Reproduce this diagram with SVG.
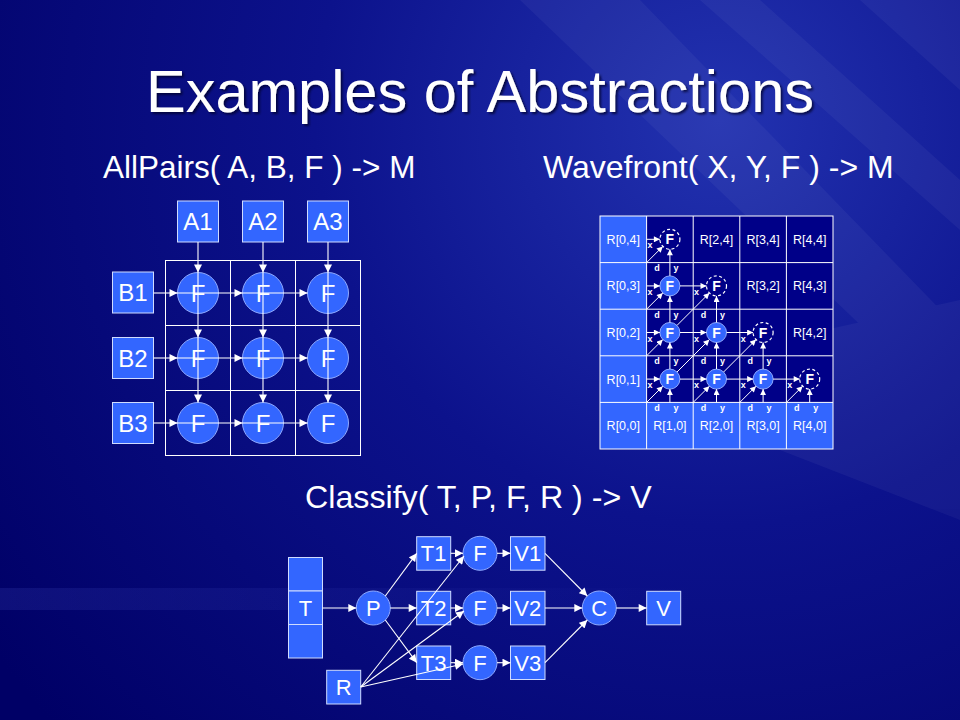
<svg xmlns="http://www.w3.org/2000/svg" width="960" height="720" viewBox="0 0 960 720">
<defs>
<radialGradient id="bg" cx="720" cy="120" r="900" gradientUnits="userSpaceOnUse">
<stop offset="0" stop-color="#2232b0"/>
<stop offset="0.45" stop-color="#0c128c"/>
<stop offset="1" stop-color="#000066"/>
</radialGradient>
<linearGradient id="band" x1="0" y1="0" x2="1" y2="0">
<stop offset="0" stop-color="#6f7fff" stop-opacity="0.12"/>
<stop offset="1" stop-color="#6f7fff" stop-opacity="0"/>
</linearGradient>
<filter id="tshadow" x="-5%" y="-20%" width="110%" height="140%">
<feDropShadow dx="2" dy="2" stdDeviation="1" flood-color="#000022" flood-opacity="0.7"/>
</filter>
<marker id="ah" viewBox="0 0 10 10" refX="10" refY="5" markerUnits="userSpaceOnUse" markerWidth="9" markerHeight="8" orient="auto">
<path d="M0,0 L10,5 L0,10 z" fill="#ffffff"/>
</marker>
<marker id="sh" viewBox="0 0 10 10" refX="10" refY="5" markerUnits="userSpaceOnUse" markerWidth="7" markerHeight="6" orient="auto">
<path d="M0,0 L10,5 L0,10 z" fill="#ffffff"/>
</marker>
</defs>
<style>
.box{fill:#3366ff;stroke:#d0dcff;stroke-width:1}
.circ{fill:#3366ff;stroke:#8faaff;stroke-width:1}
.dash{fill:none;stroke:#ffffff;stroke-width:1.2;stroke-dasharray:3,2.5}
.lbl{font-family:"Liberation Sans",Arial,sans-serif;fill:#ffffff;text-anchor:middle}
.big{font-size:24px}
.mid{font-size:22px}
.cell{font-size:12.5px}
.fw{font-size:14px;font-weight:bold}
.tiny{font-family:"Liberation Sans",Arial,sans-serif;fill:#ffffff;font-size:9px;font-weight:bold;text-anchor:middle}
.ln{stroke:#ffffff;stroke-width:1;fill:none}
.con{stroke:#ffffff;stroke-width:1.1;fill:none;marker-end:url(#ah)}
.wc{stroke:#ffffff;stroke-width:1;fill:none;marker-end:url(#sh)}
.hd{font-family:"Liberation Sans",Arial,sans-serif;fill:#ffffff}
</style>
<rect x="0" y="0" width="960" height="720" fill="url(#bg)"/>
<g fill="#ffffff" opacity="0.04">
<path d="M520,0 L640,0 L960,330 L960,420 Z"/>
<path d="M700,0 L760,0 L960,180 L960,230 Z"/>
<path d="M860,0 L960,0 L960,90 Z"/>
<path d="M600,380 L960,300 L960,520 Z"/>
</g>
<rect x="0" y="588" width="700" height="22" fill="url(#band)"/>
<text x="480" y="112" font-family="Liberation Sans,Arial,sans-serif" font-size="59.5" fill="#ffffff" text-anchor="middle" filter="url(#tshadow)">Examples of Abstractions</text>
<text class="hd" x="103" y="178" font-size="31.5">AllPairs( A, B, F ) -&gt; M</text>
<text class="hd" x="543" y="178" font-size="32">Wavefront( X, Y, F ) -&gt; M</text>
<text class="hd" x="305" y="508" font-size="32.2">Classify( T, P, F, R ) -&gt; V</text>

<!-- AllPairs grid -->
<g id="allpairs-grid" class="ln">
<rect x="165.5" y="260.5" width="195" height="195"/>
<line x1="230.5" y1="260.5" x2="230.5" y2="455.5"/>
<line x1="295.5" y1="260.5" x2="295.5" y2="455.5"/>
<line x1="165.5" y1="325.5" x2="360.5" y2="325.5"/>
<line x1="165.5" y1="390.5" x2="360.5" y2="390.5"/>
</g>
<g id="A1"><rect class="box" x="177.5" y="201" width="41" height="41"/><text class="lbl big" x="198" y="230">A1</text></g>
<g id="A2"><rect class="box" x="242.5" y="201" width="41" height="41"/><text class="lbl big" x="263" y="230">A2</text></g>
<g id="A3"><rect class="box" x="307.5" y="201" width="41" height="41"/><text class="lbl big" x="328" y="230">A3</text></g>
<g id="B1"><rect class="box" x="112.5" y="272" width="41" height="41"/><text class="lbl big" x="133" y="301">B1</text></g>
<g id="B2"><rect class="box" x="112.5" y="337.5" width="41" height="41"/><text class="lbl big" x="133" y="366.5">B2</text></g>
<g id="B3"><rect class="box" x="112.5" y="402.5" width="41" height="41"/><text class="lbl big" x="133" y="431.5">B3</text></g>
<g id="F11"><circle class="circ" cx="198" cy="293" r="20.5"/><text class="lbl big" x="198" y="302">F</text></g>
<g id="F21"><circle class="circ" cx="263" cy="293" r="20.5"/><text class="lbl big" x="263" y="302">F</text></g>
<g id="F31"><circle class="circ" cx="328" cy="293" r="20.5"/><text class="lbl big" x="328" y="302">F</text></g>
<g id="F12"><circle class="circ" cx="198" cy="358" r="20.5"/><text class="lbl big" x="198" y="367">F</text></g>
<g id="F22"><circle class="circ" cx="263" cy="358" r="20.5"/><text class="lbl big" x="263" y="367">F</text></g>
<g id="F32"><circle class="circ" cx="328" cy="358" r="20.5"/><text class="lbl big" x="328" y="367">F</text></g>
<g id="F13"><circle class="circ" cx="198" cy="423" r="20.5"/><text class="lbl big" x="198" y="432">F</text></g>
<g id="F23"><circle class="circ" cx="263" cy="423" r="20.5"/><text class="lbl big" x="263" y="432">F</text></g>
<g id="F33"><circle class="circ" cx="328" cy="423" r="20.5"/><text class="lbl big" x="328" y="432">F</text></g>

<!-- Wavefront grid -->
<g id="wavefront-grid">
<rect x="646.6" y="216" width="186.4" height="186.4" fill="#000088"/>
<rect x="600" y="216" width="46.6" height="233" fill="#3366ff"/>
<rect x="646.6" y="402.4" width="186.4" height="46.6" fill="#3366ff"/>
<g class="ln">
<rect x="600" y="216" width="233" height="233"/>
<line x1="646.6" y1="216" x2="646.6" y2="449"/>
<line x1="693.2" y1="216" x2="693.2" y2="449"/>
<line x1="739.8" y1="216" x2="739.8" y2="449"/>
<line x1="786.4" y1="216" x2="786.4" y2="449"/>
<line x1="600" y1="262.6" x2="833" y2="262.6"/>
<line x1="600" y1="309.2" x2="833" y2="309.2"/>
<line x1="600" y1="355.8" x2="833" y2="355.8"/>
<line x1="600" y1="402.4" x2="833" y2="402.4"/>
</g>
<g class="lbl cell">
<text x="623.3" y="243.8">R[0,4]</text>
<text x="623.3" y="290.4">R[0,3]</text>
<text x="623.3" y="337">R[0,2]</text>
<text x="623.3" y="383.6">R[0,1]</text>
<text x="623.3" y="430.2">R[0,0]</text>
<text x="669.9" y="430.2">R[1,0]</text>
<text x="716.5" y="430.2">R[2,0]</text>
<text x="763.1" y="430.2">R[3,0]</text>
<text x="809.7" y="430.2">R[4,0]</text>
<text x="716.5" y="243.8">R[2,4]</text>
<text x="763.1" y="243.8">R[3,4]</text>
<text x="809.7" y="243.8">R[4,4]</text>
<text x="763.1" y="290.4">R[3,2]</text>
<text x="809.7" y="290.4">R[4,3]</text>
<text x="809.7" y="337">R[4,2]</text>
</g>
<g class="tiny">
<text x="650" y="248">x</text><text x="657" y="271">d</text><text x="676" y="271">y</text>
<text x="650" y="295">x</text><text x="657" y="317.5">d</text><text x="676" y="317.5">y</text>
<text x="650" y="341.5">x</text><text x="657" y="364">d</text><text x="676" y="364">y</text>
<text x="650" y="388">x</text><text x="657" y="411">d</text><text x="676" y="411">y</text>
<text x="696.6" y="295">x</text><text x="703.6" y="317.5">d</text><text x="722.5" y="317.5">y</text>
<text x="696.6" y="341.5">x</text><text x="703.6" y="364">d</text><text x="722.5" y="364">y</text>
<text x="696.6" y="388">x</text><text x="703.6" y="411">d</text><text x="722.5" y="411">y</text>
<text x="743.2" y="341.5">x</text><text x="750.2" y="364">d</text><text x="769.1" y="364">y</text>
<text x="743.2" y="388">x</text><text x="750.2" y="411">d</text><text x="769.1" y="411">y</text>
<text x="789.8" y="388">x</text><text x="796.8" y="411">d</text><text x="815.7" y="411">y</text>
</g>
</g>
<g id="W14"><circle class="dash" cx="669.9" cy="239.3" r="10"/><text class="lbl fw" x="669.9" y="244.3">F</text></g>
<g id="W13"><circle class="circ" cx="669.9" cy="285.9" r="10"/><text class="lbl fw" x="669.9" y="290.9">F</text></g>
<g id="W12"><circle class="circ" cx="669.9" cy="332.5" r="10"/><text class="lbl fw" x="669.9" y="337.5">F</text></g>
<g id="W11"><circle class="circ" cx="669.9" cy="379.1" r="10"/><text class="lbl fw" x="669.9" y="384.1">F</text></g>
<g id="W23"><circle class="dash" cx="716.5" cy="285.9" r="10"/><text class="lbl fw" x="716.5" y="290.9">F</text></g>
<g id="W22"><circle class="circ" cx="716.5" cy="332.5" r="10"/><text class="lbl fw" x="716.5" y="337.5">F</text></g>
<g id="W21"><circle class="circ" cx="716.5" cy="379.1" r="10"/><text class="lbl fw" x="716.5" y="384.1">F</text></g>
<g id="W32"><circle class="dash" cx="763.1" cy="332.5" r="10"/><text class="lbl fw" x="763.1" y="337.5">F</text></g>
<g id="W31"><circle class="circ" cx="763.1" cy="379.1" r="10"/><text class="lbl fw" x="763.1" y="384.1">F</text></g>
<g id="W41"><circle class="dash" cx="809.7" cy="379.1" r="10"/><text class="lbl fw" x="809.7" y="384.1">F</text></g>

<!-- Classify nodes -->
<g id="T">
<rect class="box" x="288.5" y="557.5" width="34" height="33.5"/>
<rect class="box" x="288.5" y="591" width="34" height="33.5"/>
<rect class="box" x="288.5" y="624.5" width="34" height="33.5"/>
<text class="lbl mid" x="305.5" y="616">T</text>
</g>
<g id="P"><circle class="circ" cx="373.3" cy="608" r="17"/><text class="lbl mid" x="373.3" y="616">P</text></g>
<g id="T1"><rect class="box" x="416.7" y="536.7" width="34" height="33.5"/><text class="lbl mid" x="433.7" y="561.3">T1</text></g>
<g id="T2"><rect class="box" x="416.7" y="591.3" width="34" height="33.5"/><text class="lbl mid" x="433.7" y="616">T2</text></g>
<g id="T3"><rect class="box" x="416.7" y="646" width="34" height="33.5"/><text class="lbl mid" x="433.7" y="670.7">T3</text></g>
<g id="CF1"><circle class="circ" cx="480" cy="553.3" r="17"/><text class="lbl mid" x="480" y="561.3">F</text></g>
<g id="CF2"><circle class="circ" cx="480" cy="608" r="17"/><text class="lbl mid" x="480" y="616">F</text></g>
<g id="CF3"><circle class="circ" cx="480" cy="662.7" r="17"/><text class="lbl mid" x="480" y="670.7">F</text></g>
<g id="V1"><rect class="box" x="510.5" y="536.7" width="34.5" height="33.5"/><text class="lbl mid" x="527.7" y="561.3">V1</text></g>
<g id="V2"><rect class="box" x="510.5" y="591.3" width="34.5" height="33.5"/><text class="lbl mid" x="527.7" y="616">V2</text></g>
<g id="V3"><rect class="box" x="510.5" y="646" width="34.5" height="33.5"/><text class="lbl mid" x="527.7" y="670.7">V3</text></g>
<g id="R"><rect class="box" x="326.7" y="670.3" width="34" height="33.7"/><text class="lbl mid" x="343.7" y="695">R</text></g>
<g id="C"><circle class="circ" cx="599.3" cy="608" r="17"/><text class="lbl mid" x="599.3" y="616">C</text></g>
<g id="V"><rect class="box" x="646.7" y="591.3" width="34" height="33.5"/><text class="lbl mid" x="663.7" y="616">V</text></g>

<!-- Connectors -->
<g id="connectors">
<g class="con">
<line x1="198" y1="242" x2="198" y2="272.5"/><line x1="198" y1="272.5" x2="198" y2="337.5"/><line x1="198" y1="337.5" x2="198" y2="402.5"/>
<line x1="263" y1="242" x2="263" y2="272.5"/><line x1="263" y1="272.5" x2="263" y2="337.5"/><line x1="263" y1="337.5" x2="263" y2="402.5"/>
<line x1="328" y1="242" x2="328" y2="272.5"/><line x1="328" y1="272.5" x2="328" y2="337.5"/><line x1="328" y1="337.5" x2="328" y2="402.5"/>
<line x1="153.5" y1="293" x2="177.5" y2="293"/><line x1="177.5" y1="293" x2="242.5" y2="293"/><line x1="242.5" y1="293" x2="307.5" y2="293"/>
<line x1="153.5" y1="358" x2="177.5" y2="358"/><line x1="177.5" y1="358" x2="242.5" y2="358"/><line x1="242.5" y1="358" x2="307.5" y2="358"/>
<line x1="153.5" y1="423" x2="177.5" y2="423"/><line x1="177.5" y1="423" x2="242.5" y2="423"/><line x1="242.5" y1="423" x2="307.5" y2="423"/>

<line x1="322.5" y1="608" x2="356.3" y2="608"/>
<line x1="385.3" y1="596" x2="416.7" y2="553.3"/>
<line x1="390.3" y1="608" x2="416.7" y2="608"/>
<line x1="385.3" y1="620" x2="416.7" y2="662.7"/>
<line x1="450.7" y1="553.3" x2="463" y2="553.3"/>
<line x1="450.7" y1="608" x2="463" y2="608"/>
<line x1="450.7" y1="662.7" x2="463" y2="662.7"/>
<line x1="497" y1="553.3" x2="510.5" y2="553.3"/>
<line x1="497" y1="608" x2="510.5" y2="608"/>
<line x1="497" y1="662.7" x2="510.5" y2="662.7"/>
<line x1="360.7" y1="687" x2="464" y2="556"/>
<line x1="360.7" y1="687" x2="464" y2="611"/>
<line x1="360.7" y1="687" x2="463" y2="664"/>
<line x1="545" y1="553.3" x2="587.3" y2="596"/>
<line x1="545" y1="608" x2="582.3" y2="608"/>
<line x1="545" y1="662.7" x2="587.3" y2="620"/>
<line x1="616.3" y1="608" x2="646.7" y2="608"/>
</g>
<g class="wc">
<line x1="646.6" y1="239.3" x2="659.9" y2="239.3"/><line x1="669.9" y1="275.9" x2="669.9" y2="249.3"/><line x1="646.6" y1="262.6" x2="662.8" y2="246.4"/>
<line x1="646.6" y1="285.9" x2="659.9" y2="285.9"/><line x1="669.9" y1="322.5" x2="669.9" y2="295.9"/><line x1="646.6" y1="309.2" x2="662.8" y2="293"/>
<line x1="646.6" y1="332.5" x2="659.9" y2="332.5"/><line x1="669.9" y1="369.1" x2="669.9" y2="342.5"/><line x1="646.6" y1="355.8" x2="662.8" y2="339.6"/>
<line x1="646.6" y1="379.1" x2="659.9" y2="379.1"/><line x1="669.9" y1="402.4" x2="669.9" y2="389.1"/><line x1="646.6" y1="402.4" x2="662.8" y2="386.2"/>
<line x1="679.9" y1="285.9" x2="706.5" y2="285.9"/><line x1="716.5" y1="322.5" x2="716.5" y2="295.9"/><line x1="677" y1="325.4" x2="709.4" y2="293"/>
<line x1="679.9" y1="332.5" x2="706.5" y2="332.5"/><line x1="716.5" y1="369.1" x2="716.5" y2="342.5"/><line x1="677" y1="372" x2="709.4" y2="339.6"/>
<line x1="679.9" y1="379.1" x2="706.5" y2="379.1"/><line x1="716.5" y1="402.4" x2="716.5" y2="389.1"/><line x1="693.2" y1="402.4" x2="709.4" y2="386.2"/>
<line x1="726.5" y1="332.5" x2="753.1" y2="332.5"/><line x1="763.1" y1="369.1" x2="763.1" y2="342.5"/><line x1="723.6" y1="372" x2="756" y2="339.6"/>
<line x1="726.5" y1="379.1" x2="753.1" y2="379.1"/><line x1="763.1" y1="402.4" x2="763.1" y2="389.1"/><line x1="739.8" y1="402.4" x2="756" y2="386.2"/>
<line x1="773.1" y1="379.1" x2="799.7" y2="379.1"/><line x1="809.7" y1="402.4" x2="809.7" y2="389.1"/><line x1="786.4" y1="402.4" x2="802.6" y2="386.2"/>
</g>
</g>
</svg>
